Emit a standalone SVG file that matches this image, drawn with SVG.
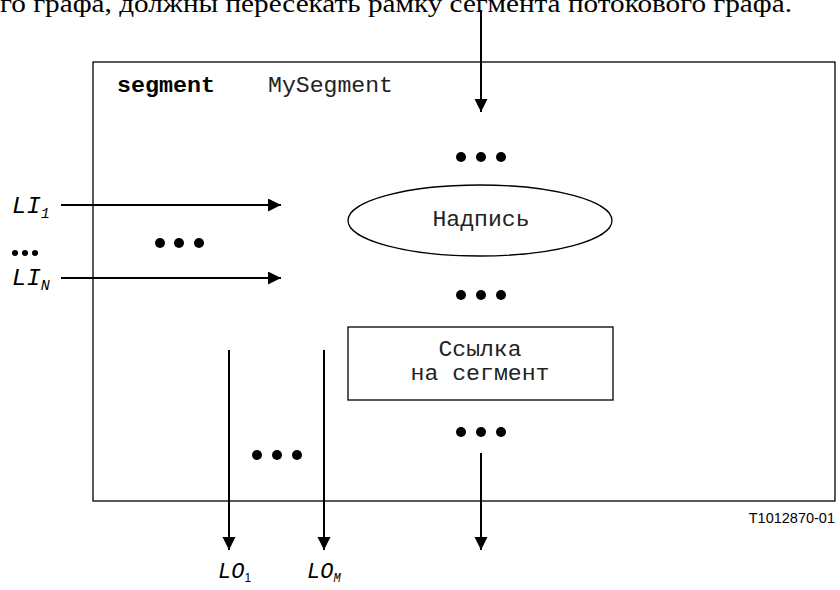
<svg xmlns="http://www.w3.org/2000/svg" width="840" height="590" viewBox="0 0 840 590">
  <style>
    .line { stroke: #000; stroke-width: 2; fill: none; }
    .thin { stroke: #000; stroke-width: 1.3; fill: none; }
    .mono { font-family: "Liberation Mono", "Courier New", monospace; font-size: 22px; fill: #222; }
    .ital { font-family: "Liberation Mono", "Courier New", monospace; font-style: italic; fill: #000; }
    .dot { fill: #000; }
  </style>
  <defs>
    <marker id="arrow" markerUnits="userSpaceOnUse" markerWidth="14" markerHeight="14" refX="13" refY="6.5" orient="auto">
      <path d="M0,0 L13,6.5 L0,13 Z" fill="#000"/>
    </marker>
  </defs>

  <rect width="840" height="590" fill="#fff"/>

  <!-- caption line cut at the top edge -->
  <text x="0" y="12" font-family="Liberation Serif, Times New Roman, serif" font-size="25" fill="#000" textLength="792" lengthAdjust="spacingAndGlyphs">го графа, должны пересекать рамку сегмента потокового графа.</text>

  <!-- segment frame -->
  <g id="segment-frame">
    <rect x="93" y="62" width="742" height="439" class="thin"/>
    <text x="117" y="92" class="mono" font-weight="bold" style="fill:#000" textLength="98" lengthAdjust="spacingAndGlyphs">segment</text>
    <text x="268" y="92" class="mono" textLength="125" lengthAdjust="spacingAndGlyphs">MySegment</text>
  </g>

  <!-- label node -->
  <g id="label-node">
    <ellipse cx="480" cy="220.5" rx="132" ry="35.5" class="thin"/>
    <text x="481" y="226" class="mono" text-anchor="middle" textLength="97" lengthAdjust="spacingAndGlyphs">Надпись</text>
  </g>

  <!-- segment reference node -->
  <g id="segment-ref">
    <rect x="348" y="327" width="265" height="73" class="thin"/>
    <text x="480" y="356" class="mono" text-anchor="middle" textLength="83" lengthAdjust="spacingAndGlyphs">Ссылка</text>
    <text x="480" y="380" class="mono" text-anchor="middle" textLength="139" lengthAdjust="spacingAndGlyphs">на сегмент</text>
  </g>

  <!-- ellipsis dots -->
  <g id="dots">
    <circle cx="461" cy="157" r="5" class="dot"/><circle cx="481" cy="157" r="5" class="dot"/><circle cx="501" cy="157" r="5" class="dot"/>
    <circle cx="461" cy="295" r="5" class="dot"/><circle cx="481" cy="295" r="5" class="dot"/><circle cx="501" cy="295" r="5" class="dot"/>
    <circle cx="461" cy="432" r="5" class="dot"/><circle cx="481" cy="432" r="5" class="dot"/><circle cx="501" cy="432" r="5" class="dot"/>
    <circle cx="160" cy="243" r="5" class="dot"/><circle cx="179" cy="243" r="5" class="dot"/><circle cx="199" cy="243" r="5" class="dot"/>
    <circle cx="257" cy="455" r="5" class="dot"/><circle cx="277" cy="455" r="5" class="dot"/><circle cx="297" cy="455" r="5" class="dot"/>
    <circle cx="15" cy="253" r="3" class="dot"/><circle cx="25" cy="253" r="3" class="dot"/><circle cx="35" cy="253" r="3" class="dot"/>
  </g>

  <!-- input / output labels -->
  <g id="inputs">
    <text x="12" y="213" class="ital" font-size="24">LI<tspan font-size="15" dy="5">1</tspan></text>
    <text x="12" y="285" class="ital" font-size="24">LI<tspan font-size="15" dy="5">N</tspan></text>
  </g>
  <g id="outputs">
    <text x="218" y="578" class="ital" font-size="22">LO<tspan font-family="Liberation Sans, Arial, sans-serif" font-style="normal" font-size="12" dy="4">1</tspan></text>
    <text x="307" y="578" class="ital" font-size="22">LO<tspan font-size="12" dy="4">M</tspan></text>
  </g>

  <!-- connectors -->
  <g id="connectors">
    <line x1="481" y1="10" x2="481" y2="112" class="line" marker-end="url(#arrow)"/>
    <line x1="61" y1="205" x2="281" y2="205" class="line" marker-end="url(#arrow)"/>
    <line x1="61" y1="278" x2="281" y2="278" class="line" marker-end="url(#arrow)"/>
    <line x1="229" y1="350" x2="229" y2="550" class="line" marker-end="url(#arrow)"/>
    <line x1="324" y1="350" x2="324" y2="550" class="line" marker-end="url(#arrow)"/>
    <line x1="481" y1="453" x2="481" y2="550" class="line" marker-end="url(#arrow)"/>
  </g>

  <text x="835" y="523" font-family="Liberation Sans, Arial, sans-serif" font-size="14.5" text-anchor="end" fill="#000">T1012870-01</text>
</svg>
